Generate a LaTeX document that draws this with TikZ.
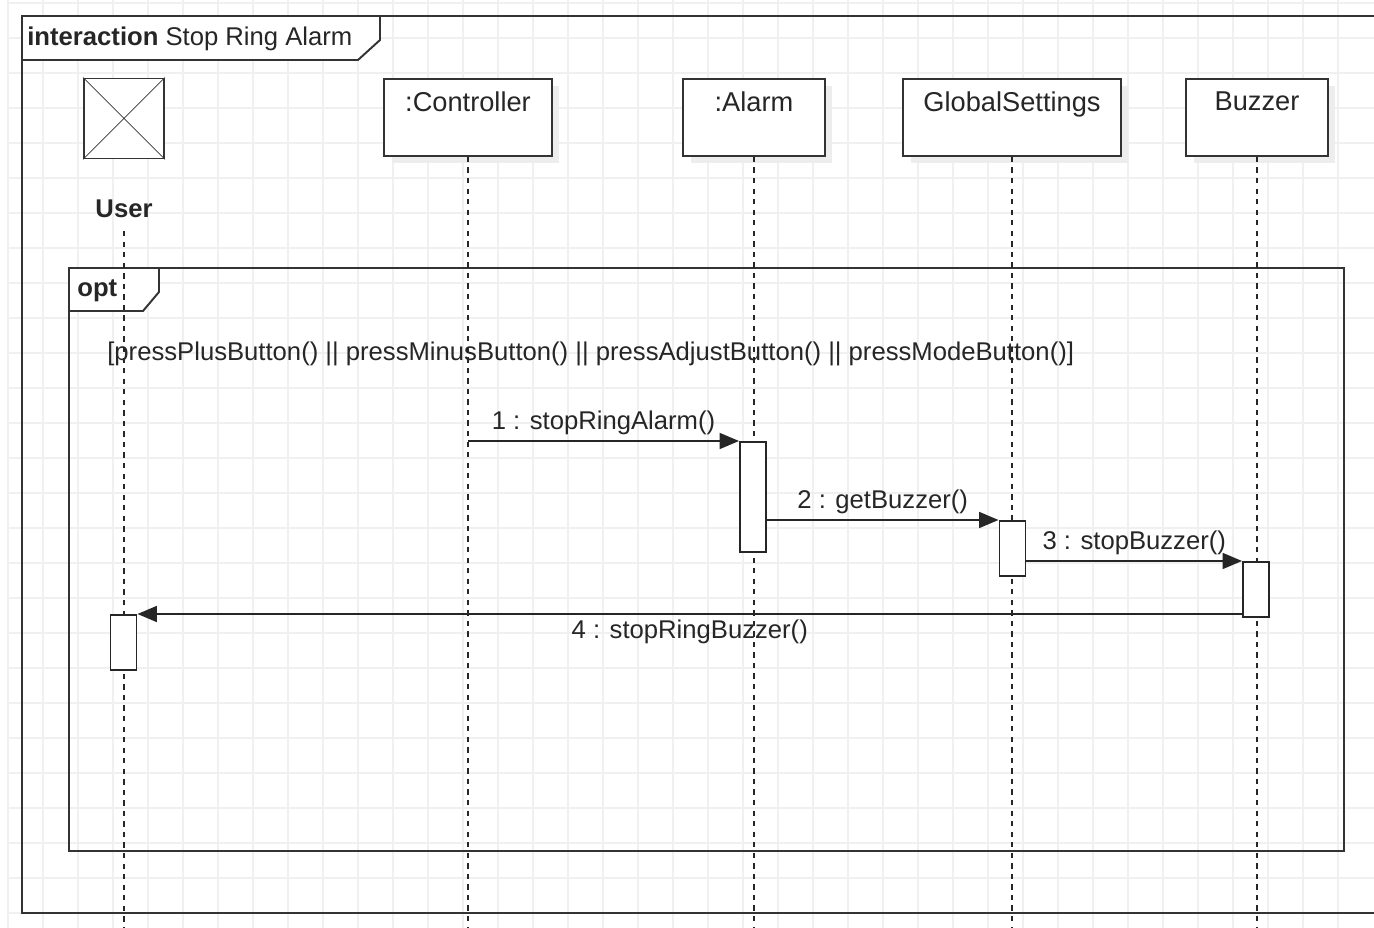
\documentclass[tikz,border=0pt]{standalone}
\usepackage{fontspec}
\setmainfont{Liberation Sans}
\usetikzlibrary{positioning,arrows.meta,shadows}

\begin{document}
\begin{tikzpicture}[x=0.02cm,y=-0.02cm,
            every node/.style={
              text=black!85
            },
            gline/.style={
              black!6,
              line width=0.6pt
            },
            frame/.style={
              draw=black!80,
              line width=1.1pt
            },
            obj/.style={
              draw=black!80,
              line width=1.1pt,
              fill=white,
              minimum height=1.54cm,
              inner sep=0pt,
              general shadow={fill=black!7,shadow xshift=0.15cm,shadow yshift=-0.15cm}
            },
            objtxt/.style={
              inner sep=0pt,
              font=\fontsize{15.5}{18}\selectfont
            },
            txt/.style={
              inner sep=3pt,
              font=\fontsize{14.6}{17}\selectfont
            },
            life/.style={
              draw=black!85,
              line width=1.1pt,
              dash pattern=on 3pt off 3pt
            },
            act/.style={
              draw=black!85,
              line width=1.1pt,
              fill=white,
              minimum width=0.52cm,
              inner sep=0pt,
              anchor=north
            },
            msg/.style={
              draw=black!85,
              line width=1.1pt,
              -{Triangle[length=11pt,width=9pt]}
            }
            ]
            \fill[white] (0,0) rectangle (1374,928);
            \useasboundingbox (0,0) rectangle (1374,928);
            
            % grid
            \foreach \gx in {0,...,38}
              \draw[gline] (8+35*\gx,0) -- (8+35*\gx,928);
            \foreach \gy in {0,...,26}
              \draw[gline] (8,3+35*\gy) -- (1374,3+35*\gy);
            
            % interaction frame
            \draw[frame] (1374,16) -- (22,16) -- (22,913) -- (1374,913);
            \draw[frame,fill=white] (22,16) -- (380,16) -- (380,40) -- (358,60) -- (22,60) -- cycle;
            \node[txt,anchor=west,inner sep=0pt] (title) at (27,39)
              {\textbf{interaction} Stop Ring Alarm};
            
            % opt fragment
            \draw[frame] (69,268) rectangle (1344,851);
            \draw[frame,fill=white] (69,268) -- (159,268) -- (159,292) -- (143,311) -- (69,311) -- cycle;
            \node[txt,anchor=west,inner sep=0pt] (opt) at (77,291) {\textbf{opt}};
            
            % lifeline heads
            \node[draw=black!80,line width=1.1pt,fill=white,minimum size=1.6cm,inner sep=0pt] 
              (user) at (124,118.5) {};
            \draw[black!80] (user.north west) -- (user.south east)
                            (user.north east) -- (user.south west);
            \node[txt] (userLbl) at (124,209) {\textbf{User}};
            
            \node[obj,minimum width=3.36cm] (ctrl) at (468,117.5) {};
            \node[objtxt,below=0.26cm of ctrl.north] (ctrlLbl) {:Controller};
            \node[obj,minimum width=2.84cm] (alarm) at (754,117.5) {};
            \node[objtxt,below=0.26cm of alarm.north] (alarmLbl) {:Alarm};
            \node[obj,minimum width=4.36cm] (gs) at (1012,117.5) {};
            \node[objtxt,below=0.26cm of gs.north] (gsLbl) {GlobalSettings};
            \node[obj,minimum width=2.84cm] (buz) at (1257,117.5) {};
            \node[objtxt,below=0.26cm of buz.north] (buzLbl) {Buzzer};
            
            % lifelines
            \coordinate (bot) at (0,928);
            \draw[life] ([yshift=-0.15cm]userLbl.south) -- (userLbl |- bot);
            \draw[life] (ctrl.south) -- (ctrl |- bot);
            \draw[life] (alarm.south) -- (alarm |- bot);
            \draw[life] (gs.south) -- (gs |- bot);
            \draw[life] (buz.south) -- (buz |- bot);
            
            \node[txt,anchor=west,inner sep=0pt] (guard) at (107,354) 
              {[pressPlusButton() || pressMinusButton() || pressAdjustButton() || pressModeButton()]};
            
            % activations
            \node[act,minimum height=2.2cm] (actAlarm) at (753,441) {};
            \node[act,minimum height=1.1cm] (actGS) at (1012.5,520) {};
            \node[act,minimum height=1.1cm] (actBuz) at (1256,561) {};
            \node[act,minimum height=1.1cm] (actUser) at (123.5,614) {};
            
            % messages
            \draw[msg] (ctrl |- actAlarm.north) -- node[txt,above] (m1) {1 : stopRingAlarm()} (actAlarm.north west);
            \draw[msg] (actAlarm.east |- actGS.north) -- node[txt,above] (m2) {2 : getBuzzer()} (actGS.north west);
            \draw[msg] (actGS.east |- actBuz.north) -- node[txt,above] (m3) {3 : stopBuzzer()} (actBuz.north west);
            \draw[msg] (actBuz.west |- actUser.north) -- node[txt,below] (m4) {4 : stopRingBuzzer()} (actUser.north east);
            \end{tikzpicture}
\end{document}
